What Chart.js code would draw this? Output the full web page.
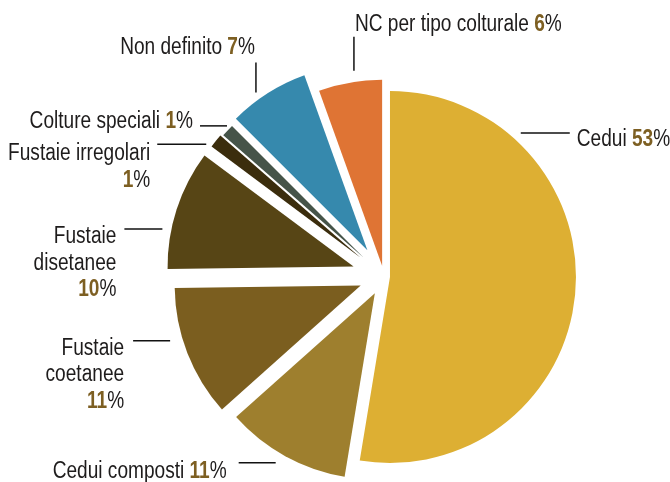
<!DOCTYPE html>
<html>
<head>
<meta charset="utf-8">
<script src="https://cdn.jsdelivr.net/npm/chart.js@4/dist/chart.umd.min.js"></script>
<style>
  html, body { margin: 0; padding: 0; background: #fff; }
  #wrap { width: 670px; height: 482px; }
</style>
</head>
<body>
<div id="wrap"><canvas id="pie" width="670" height="482"></canvas></div>
<script>
// categories, clockwise from 12 o'clock
var categories = ['Cedui', 'Cedui composti', 'Fustaie coetanee', 'Fustaie disetanee',
                  'Fustaie irregolari', 'Colture speciali', 'Non definito', 'NC per tipo colturale'];
// shares (they round to the printed labels)
var shares = [52.6, 10.8, 11.4, 10.4, 1.2, 1.1, 7.0, 5.5];
// percentages printed next to each slice
var printed = [53, 11, 11, 10, 1, 1, 7, 6];

var colours = ['#ddaf33', '#9e7f2e', '#7b5e1f', '#574515', '#3b2d0d', '#465449', '#3689ad', '#df7434'];
var explode = [6, 19, 25, 32, 30, 28, 31, 11];

// no condensed face installed, so squeeze a Helvetica-metric font sideways
var FONT = '"Liberation Sans", Arial, sans-serif';
var SQUEEZE = 0.83;
var TEXT = '#1e1c1c';
var NUM = '#7d5f22';

// where each label hangs off its slice
var labelLayout = [
    { at: 0.2075, side: 'right', gap: 13, len: 49, tdx: 7,  tdy: 13, wrap: 'inline' },
    { at: 0.381,  side: 'left',  gap: 23, len: 37, tdx: 12, tdy: 15, wrap: 'inline' },
    { at: 0.596,  side: 'left',  gap: 13, len: 37, tdx: 9,  tdy: 14, wrap: 'stack' },
    { at: 0.33,   side: 'left',  gap: 9,  len: 38, tdx: 8,  tdy: 14, wrap: 'stack' },
    { at: 0.2,    side: 'left',  gap: 7,  len: 49, tdx: 7,  tdy: 16, wrap: 'split' },
    { at: 1.0,    side: 'left',  gap: 5,  len: 27, tdx: 7,  tdy: 2,  wrap: 'inline' },
    { at: 0.325,  side: 'up',    gap: 9,  len: 30, tdx: 1,  tdy: 8,  wrap: 'inline', align: 'right' },
    { at: 0.56,   side: 'up',    gap: 11, len: 34, tdx: -1, tdy: 6,  wrap: 'inline', align: 'left' }
];

// exploded slice: shifted along its bisector, radius untouched
class ExplodedArc extends Chart.ArcElement {
    draw(ctx) {
        var shift = this.options.offset || 0;
        var mid = (this.startAngle + this.endAngle) / 2;
        var cx = this.x + Math.cos(mid) * shift;
        var cy = this.y + Math.sin(mid) * shift;
        ctx.save();
        ctx.beginPath();
        ctx.moveTo(cx, cy);
        ctx.arc(cx, cy, this.outerRadius, this.startAngle, this.endAngle);
        ctx.closePath();
        ctx.fillStyle = this.options.backgroundColor;
        ctx.fill();
        ctx.restore();
    }
}
ExplodedArc.id = 'explodedArc';
Chart.register(ExplodedArc);
Chart.defaults.datasets.pie.dataElementType = 'explodedArc';

function textRuns(i, wrap) {
    var pct = [{ t: String(printed[i]), b: true }, { t: '%' }];
    var name = categories[i];
    if (wrap === 'inline') return [[{ t: name + ' ' }].concat(pct)];
    if (wrap === 'split') return [[{ t: name }], pct];
    return name.split(' ').map(function (w) { return [{ t: w }]; }).concat([pct]);
}

function setFont(ctx, p) {
    ctx.font = (p.b ? 'bold ' : '') + '23px ' + FONT;
}

function runWidth(ctx, run) {
    var w = 0;
    run.forEach(function (p) {
        setFont(ctx, p);
        w += ctx.measureText(p.t).width;
    });
    return w * SQUEEZE;
}

function drawRun(ctx, run, x, y, align) {
    var w = runWidth(ctx, run);
    ctx.save();
    ctx.translate(align === 'right' ? x - w : x, y);
    ctx.scale(SQUEEZE, 1);
    var cx = 0;
    run.forEach(function (p) {
        setFont(ctx, p);
        ctx.fillStyle = p.b ? NUM : TEXT;
        ctx.fillText(p.t, cx, 0);
        cx += ctx.measureText(p.t).width;
    });
    ctx.restore();
}

var sliceLabels = {
    id: 'sliceLabels',
    afterDatasetsDraw: function (chart) {
        var ctx = chart.ctx;
        var arcs = chart.getDatasetMeta(0).data;
        ctx.save();
        ctx.textBaseline = 'alphabetic';
        ctx.strokeStyle = '#111';
        ctx.lineWidth = 1.5;
        labelLayout.forEach(function (L, i) {
            var arc = arcs[i];
            var shift = arc.options.offset || 0;
            var mid = (arc.startAngle + arc.endAngle) / 2;
            var ax = arc.x + Math.cos(mid) * shift;
            var ay = arc.y + Math.sin(mid) * shift;
            var a = arc.startAngle + L.at * (arc.endAngle - arc.startAngle);
            var px = ax + Math.cos(a) * arc.outerRadius;
            var py = ay + Math.sin(a) * arc.outerRadius;
            var runs = textRuns(i, L.wrap);
            var x0, y0, x1, y1;
            if (L.side === 'up') {
                x0 = x1 = px; y0 = py - L.gap; y1 = y0 - L.len;
            } else {
                var s = L.side === 'right' ? 1 : -1;
                y0 = y1 = py; x0 = px + s * L.gap; x1 = x0 + s * L.len;
            }
            ctx.beginPath();
            ctx.moveTo(x0, y0);
            ctx.lineTo(x1, y1);
            ctx.stroke();

            if (L.side === 'up') {
                drawRun(ctx, runs[0], x1 - L.tdx, y1 - L.tdy, L.align);
            } else if (L.side === 'right') {
                drawRun(ctx, runs[0], x1 + L.tdx, y1 + L.tdy, 'left');
            } else {
                runs.forEach(function (run, k) {
                    drawRun(ctx, run, x1 - L.tdx, y1 + L.tdy + k * 26.5, 'right');
                });
            }
        });
        ctx.restore();
    }
};

new Chart(document.getElementById('pie').getContext('2d'), {
    type: 'pie',
    data: {
        labels: categories,
        datasets: [{
            data: shares,
            backgroundColor: colours,
            offset: explode,
            borderWidth: 0
        }]
    },
    options: {
        responsive: false,
        animation: false,
        radius: 186,
        layout: { padding: { left: 98, right: 0, top: 71, bottom: 0 } },
        plugins: {
            legend: { display: false },
            tooltip: { enabled: false }
        }
    },
    plugins: [sliceLabels]
});
</script>
</body>
</html>
